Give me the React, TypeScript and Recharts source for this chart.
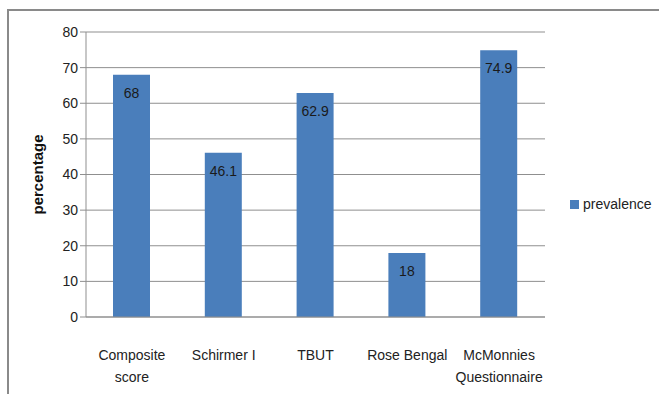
import React from 'react';
import { BarChart, Bar, XAxis, YAxis, CartesianGrid, Legend, LabelList } from 'recharts';

const categories = ['Composite\nscore', 'Schirmer I', 'TBUT', 'Rose Bengal', 'McMonnies\nQuestionnaire'];
const prevalence = [68, 46.1, 62.9, 18, 74.9];
const yTicks = [0, 10, 20, 30, 40, 50, 60, 70, 80];
const boundaryTicks = [0, 1, 2, 3, 4, 5];

const data = categories.map((name, i) => ({ name, prevalence: prevalence[i] }));

const FONT = '"Liberation Sans", Arial, sans-serif';
const GRID = '#8f8f8f';
const BLUE = '#4a7ebb';

const CategoryTick = (props: any) => {
  const { x, y, payload } = props;
  const lines = String(payload.value).split('\n');
  return (
    <text x={x} y={y + 35} textAnchor="middle" fontSize={14} fontFamily={FONT} fill="#222">
      {lines.map((l: string, i: number) => (
        <tspan key={i} x={x} dy={i === 0 ? 0 : 22}>{l}</tspan>
      ))}
    </text>
  );
};

const LegendBox = () => (
  <div style={{ width: 100, boxSizing: 'border-box', paddingLeft: 25, display: 'flex', alignItems: 'center', fontFamily: FONT, fontSize: 14, color: '#222' }}>
    <span style={{ display: 'inline-block', flexShrink: 0, width: 9, height: 9, background: BLUE, marginRight: 4 }} />
    <span style={{ whiteSpace: 'nowrap' }}>prevalence</span>
  </div>
);

const App: React.FC = () => {
  return (
    <div style={{ position: 'absolute', left: 0, top: 0, width: 659, height: 394, background: '#fff' }}>
      <div style={{ position: 'absolute', left: 7, top: 9, width: 660, height: 400, borderTop: '2px solid #8a8a8a', borderLeft: '2px solid #8a8a8a' }} />
      <BarChart width={659} height={394} data={data} margin={{ top: 32, right: 14, bottom: 17, left: 26 }}>
        <CartesianGrid vertical={false} stroke={GRID} />
        <XAxis
          xAxisId="bounds"
          type="number"
          domain={[0, 5]}
          ticks={boundaryTicks}
          height={0}
          axisLine={false}
          tickLine={{ stroke: GRID }}
          tickSize={6}
          tick={() => <g />}
        />
        <XAxis
          dataKey="name"
          height={60}
          axisLine={{ stroke: GRID }}
          tickLine={false}
          tick={<CategoryTick />}
          interval={0}
        />
        <YAxis
          width={60}
          domain={[0, 80]}
          ticks={yTicks}
          axisLine={{ stroke: GRID }}
          tickLine={{ stroke: GRID }}
          tickSize={6}
          tick={{ fontSize: 14, fontFamily: FONT, fill: '#222' }}
          label={(p: any) => {
            const vb = p.viewBox;
            const cx = vb.x + 11;
            const cy = vb.y + vb.height / 2;
            return (
              <text x={cx} y={cy} transform={`rotate(-90 ${cx} ${cy})`} textAnchor="middle" dominantBaseline="central" fontSize={15} fontWeight="bold" fontFamily={FONT} fill="#111">
                percentage
              </text>
            );
          }}
        />
        <Legend layout="vertical" align="right" verticalAlign="middle" content={<LegendBox />} wrapperStyle={{ top: 196 }} />
        <Bar dataKey="prevalence" fill={BLUE} barSize={37} isAnimationActive={false}>
          <LabelList dataKey="prevalence" position="insideTop" offset={13} fill="#1a1a1a" fontSize={14} fontFamily={FONT} />
        </Bar>
      </BarChart>
    </div>
  );
};

export default App;
